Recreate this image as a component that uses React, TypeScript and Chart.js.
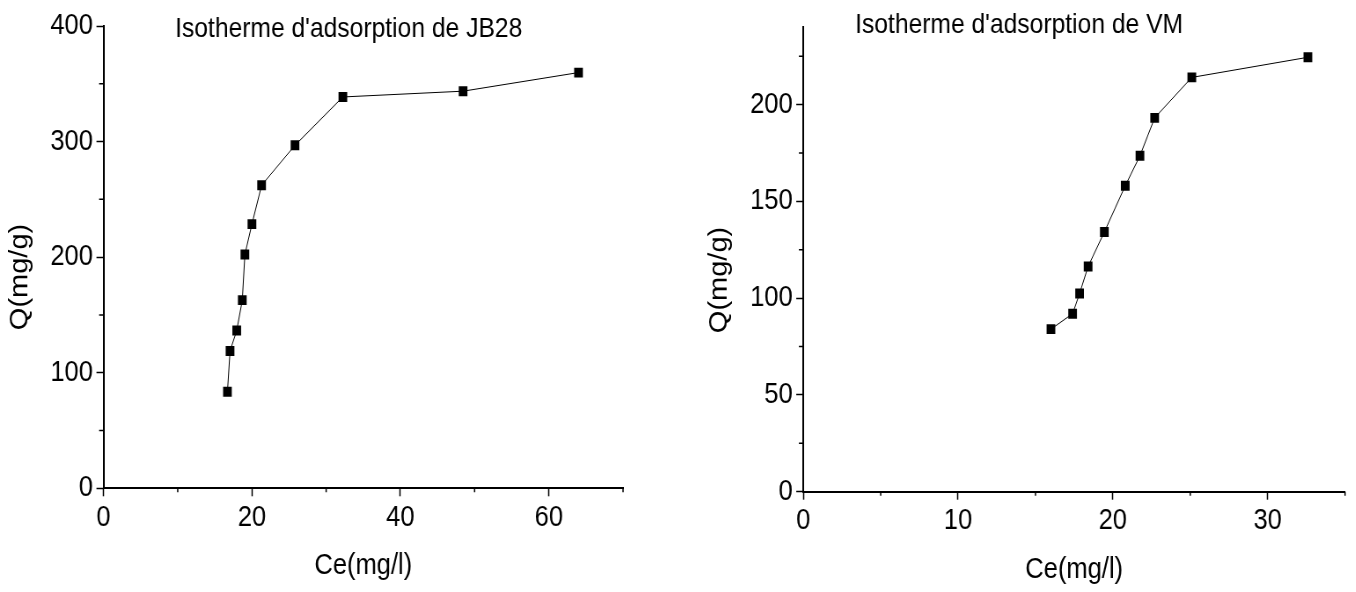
import React, { useEffect, useRef } from 'react';
import { Chart, registerables } from 'chart.js';

Chart.register(...registerables);

// ---- Data ----
const jbCe = [16.7, 17.05, 17.95, 18.7, 19.05, 20.0, 21.3, 25.8, 32.25, 48.45, 64.0];
const jbQ = [83.5, 118.8, 136.5, 162.8, 202.3, 228.6, 262.2, 296.8, 338.6, 343.6, 359.7];

const vmCe = [16.0, 17.4, 17.85, 18.4, 19.45, 20.8, 21.75, 22.7, 25.1, 32.6];
const vmQ = [84.0, 92.0, 102.4, 116.4, 134.2, 158.1, 173.6, 193.2, 214.1, 224.5];

// axis ranges / ticks
const jbXMax = 70;
const jbXStep = 20;
const jbXMinor = [10, 30, 50, 70];
const jbYMax = 400;
const jbYStep = 100;
const jbYMinor = [50, 150, 250, 350];

const vmXMax = 35;
const vmXStep = 10;
const vmXMinor = [5, 15, 25, 35];
const vmYMax = 240;
const vmYStep = 50;
const vmYMinor = [25, 75, 125, 175, 225];

const jbTitle = "Isotherme d'adsorption de JB28";
const vmTitle = "Isotherme d'adsorption de VM";
const xTitle = 'Ce(mg/l)';
const yTitle = 'Q(mg/g)';

const SQUEEZE = 0.88;
const FONT = '"Liberation Sans", Arial, "Helvetica", sans-serif';

type Spec = {
  ce: number[];
  q: number[];
  xMax: number;
  xStep: number;
  xMinor: number[];
  yMax: number;
  yStep: number;
  yMinor: number[];
  title: string;
  // layout (internal canvas px)
  width: number;
  height: number;
  axisWidth: number;
  axisHeight: number;
  padTop: number;
  padRight: number;
  titleX: number;
  titleBase: number;
  xTitleY: number;
  yTitleX: number;
  yTitleY: number;
};

function PlotPanel({ spec, left }: { spec: Spec; left: number }) {
  const ref = useRef<HTMLCanvasElement | null>(null);

  useEffect(() => {
    const canvas = ref.current;
    if (!canvas) return;
    const points = spec.ce.map((x, i) => ({ x, y: spec.q[i] }));

    const decor = {
      id: 'decor',
      afterDraw(chart: any) {
        const { ctx, chartArea, scales } = chart;
        const xs = scales.x;
        const ys = scales.y;
        ctx.save();
        ctx.strokeStyle = '#000';
        ctx.lineWidth = 1.5;
        ctx.beginPath();
        spec.xMinor.forEach((v) => {
          const px = xs.getPixelForValue(v);
          ctx.moveTo(px, chartArea.bottom);
          ctx.lineTo(px, chartArea.bottom + 4);
        });
        spec.yMinor.forEach((v) => {
          const py = ys.getPixelForValue(v);
          ctx.moveTo(chartArea.left, py);
          ctx.lineTo(chartArea.left - 5, py);
        });
        ctx.stroke();

        ctx.fillStyle = '#000';
        ctx.font = `28px ${FONT}`;
        ctx.textAlign = 'left';
        ctx.textBaseline = 'alphabetic';
        ctx.fillText(spec.title, spec.titleX, spec.titleBase);

        ctx.font = `29px ${FONT}`;
        ctx.textAlign = 'center';
        ctx.textBaseline = 'middle';
        ctx.fillText(xTitle, (chartArea.left + chartArea.right) / 2, spec.xTitleY);
        ctx.translate(spec.yTitleX, spec.yTitleY);
        ctx.rotate(-Math.PI / 2);
        ctx.fillText(yTitle, 0, 0);
        ctx.restore();
      },
    };

    const tickFont = { family: FONT, size: 29 };

    const chart = new Chart(canvas, {
      type: 'line',
      data: {
        datasets: [
          {
            data: points,
            borderColor: '#000',
            borderWidth: 1,
            backgroundColor: '#000',
            pointStyle: 'rect',
            pointRadius: 7,
            pointHoverRadius: 7,
            pointBackgroundColor: '#000',
            pointBorderColor: '#000',
            pointBorderWidth: 0,
            tension: 0,
            fill: false,
          },
        ],
      },
      options: {
        animation: false,
        responsive: false,
        devicePixelRatio: 1,
        events: [],
        layout: {
          padding: { left: 0, top: spec.padTop, right: spec.padRight, bottom: 0 },
        },
        plugins: {
          legend: { display: false },
          tooltip: { enabled: false },
          title: { display: false },
        },
        scales: {
          x: {
            type: 'linear',
            min: 0,
            max: spec.xMax,
            afterFit: (s: any) => {
              s.height = spec.axisHeight;
            },
            ticks: {
              stepSize: spec.xStep,
              includeBounds: false,
              autoSkip: false,
              maxRotation: 0,
              color: '#000',
              font: tickFont,
              padding: 4,
            },
            grid: {
              display: true,
              drawOnChartArea: false,
              drawTicks: true,
              tickLength: 8,
              tickWidth: 1.5,
              tickColor: '#000',
              color: '#000',
            },
            border: { display: true, color: '#000', width: 2 },
          },
          y: {
            type: 'linear',
            min: 0,
            max: spec.yMax,
            afterFit: (s: any) => {
              s.width = spec.axisWidth;
            },
            ticks: {
              stepSize: spec.yStep,
              includeBounds: false,
              autoSkip: false,
              color: '#000',
              font: tickFont,
              padding: 4,
            },
            grid: {
              display: true,
              drawOnChartArea: false,
              drawTicks: true,
              tickLength: 8,
              tickWidth: 1.5,
              tickColor: '#000',
              color: '#000',
            },
            border: { display: true, color: '#000', width: 2 },
          },
        },
      },
      plugins: [decor],
    } as any);

    return () => {
      chart.destroy();
    };
  }, [spec]);

  return (
    <div
      style={{
        position: 'absolute',
        left,
        top: 0,
        width: spec.width,
        height: spec.height,
        transform: `scaleX(${SQUEEZE})`,
        transformOrigin: '0 0',
      }}
    >
      <canvas
        ref={ref}
        width={spec.width}
        height={spec.height}
        style={{ display: 'block', width: spec.width, height: spec.height }}
      />
    </div>
  );
}

const jbSpec: Spec = {
  ce: jbCe,
  q: jbQ,
  xMax: jbXMax,
  xStep: jbXStep,
  xMinor: jbXMinor,
  yMax: jbYMax,
  yStep: jbYStep,
  yMinor: jbYMinor,
  title: jbTitle,
  width: 773,
  height: 592,
  axisWidth: 117.6,
  axisHeight: 103.7,
  padTop: 26,
  padRight: 65,
  titleX: 199,
  titleBase: 36.7,
  xTitleY: 565.5,
  yTitleX: 22.7,
  yTitleY: 277,
};

const vmSpec: Spec = {
  ce: vmCe,
  q: vmQ,
  xMax: vmXMax,
  xStep: vmXStep,
  xMinor: vmXMinor,
  yMax: vmYMax,
  yStep: vmYStep,
  yMinor: vmYMinor,
  title: vmTitle,
  width: 768,
  height: 592,
  axisWidth: 140.1,
  axisHeight: 100.3,
  padTop: 27.3,
  padRight: 12.3,
  titleX: 199,
  titleBase: 32.7,
  xTitleY: 569.5,
  yTitleX: 44.9,
  yTitleY: 280,
};

export default function App() {
  return (
    <div
      style={{
        position: 'fixed',
        left: 0,
        top: 0,
        width: 1356,
        height: 592,
        overflow: 'hidden',
        background: '#fff',
      }}
    >
      <PlotPanel spec={jbSpec} left={0} />
      <PlotPanel spec={vmSpec} left={680} />
    </div>
  );
}
